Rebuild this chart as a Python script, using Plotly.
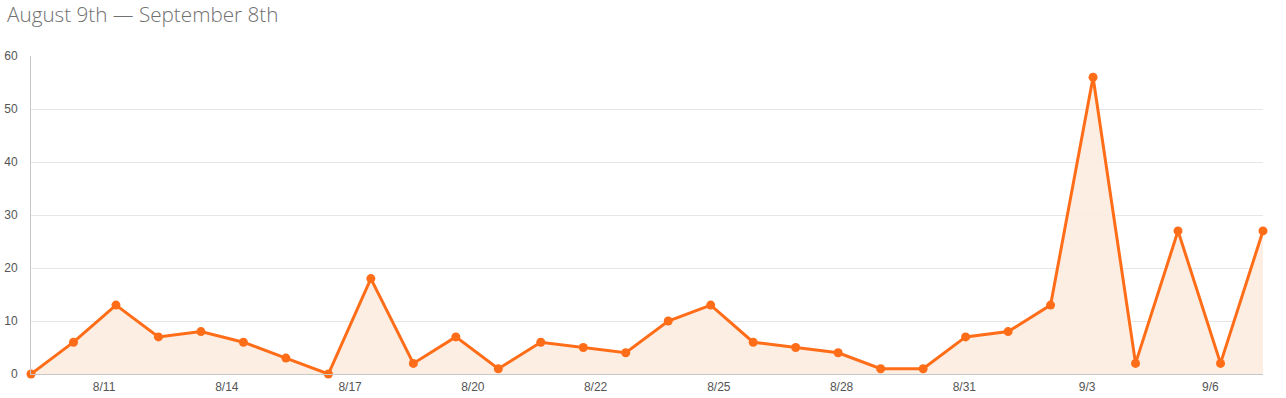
import plotly.graph_objects as go

dates = ["8/9", "8/10", "8/11", "8/12", "8/13", "8/14", "8/15", "8/16", "8/17", "8/18",
         "8/19", "8/20", "8/21", "8/22", "8/23", "8/24", "8/25", "8/26", "8/27", "8/28",
         "8/29", "8/30", "8/31", "9/1", "9/2", "9/3", "9/4", "9/5", "9/6", "9/7"]
values = [0, 6, 13, 7, 8, 6, 3, 0, 18, 2, 7, 1, 6, 5, 4, 10, 13, 6, 5, 4,
          1, 1, 7, 8, 13, 56, 2, 27, 2, 27]
tick_labels = ["8/11", "8/14", "8/17", "8/20", "8/22", "8/25", "8/28", "8/31", "9/3", "9/6"]
tick_positions = [1.72, 4.61, 7.51, 10.40, 13.29, 16.19, 19.08, 21.97, 24.86, 27.76]
y_ticks = [0, 10, 20, 30, 40, 50, 60]

x_idx = list(range(len(values)))

fig = go.Figure()
fig.add_trace(go.Scatter(
    x=x_idx, y=values, mode="lines+markers",
    line=dict(color="#ff6d18", width=3),
    marker=dict(color="#ff6d18", size=9),
    fill="tozeroy", fillcolor="rgba(253,236,224,0.9)",
    cliponaxis=False, hoverinfo="skip", customdata=dates,
))

fig.update_layout(
    width=1286, height=398,
    margin=dict(l=31, r=23, t=56, b=24),
    paper_bgcolor="white", plot_bgcolor="white",
    showlegend=False,
    title=dict(text="August 9th — September 8th", x=7/1286, xanchor="left", xref="container",
               y=1-15/398, yanchor="middle", yref="container",
               font=dict(family="Open Sans", size=20.7, color="#707070", weight=300)),
    font=dict(family="Liberation Sans, Arial", size=12, color="#555555"),
)
fig.update_xaxes(
    range=[0, 29], tickvals=tick_positions, ticktext=tick_labels, automargin=False,
    showgrid=False, zeroline=False, showline=True, linecolor="#c8c8c8", linewidth=1,
    ticks="", ticklabelstandoff=2, tickfont=dict(size=12, color="#555555"),
)
fig.update_yaxes(
    range=[0, 60], tickvals=y_ticks, showgrid=True, gridcolor="#e6e6e6", gridwidth=1,
    automargin=False,
    zeroline=False, showline=True, linecolor="#c8c8c8", linewidth=1,
    ticks="", ticklabelstandoff=10, tickfont=dict(size=12, color="#555555"),
)

fig.write_html("out.html")
